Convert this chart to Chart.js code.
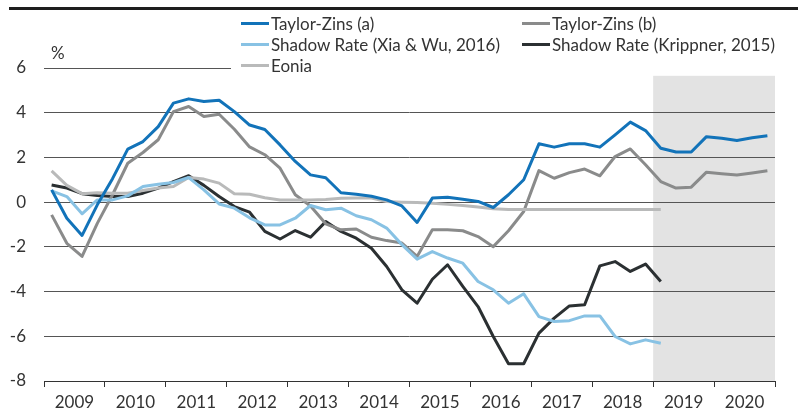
<!DOCTYPE html>
<html>
<head>
<meta charset="utf-8">
<script src="https://cdn.jsdelivr.net/npm/chart.js@4.4.1/dist/chart.umd.min.js"></script>
<style>
  html, body { margin: 0; padding: 0; background: #fff; }
  #wrap { position: relative; width: 798px; height: 416px; overflow: hidden; }
  #rule { position: absolute; left: 9px; right: 0; top: 7px; height: 3px; background: #1e1e1e; }
  #unit { position: absolute; left: 51px; top: 42px; font-family: Lato, sans-serif; font-size: 17px; color: #333; }
  #legend {
    position: absolute; left: 231px; top: 13px; width: 560px; height: 62px; background: #fff;
    display: grid; grid-auto-flow: column; grid-template-rows: repeat(3, 21.2px);
    grid-template-columns: 281px auto; padding-left: 10px; box-sizing: border-box;
    font-family: Lato, sans-serif; font-size: 17px; color: #333;
  }
  #legend .item { display: flex; align-items: center; white-space: nowrap; }
  #legend .swatch { width: 28px; height: 3px; margin-right: 2px; }
</style>
</head>
<body>
<div id="wrap">
  <canvas id="chart" width="798" height="416"></canvas>
  <div id="rule"></div>
  <div id="unit">%</div>
  <div id="legend"></div>
</div>
<script>
// years on the axis, data is quarterly from 2009 Q1
const years = ['2009', '2010', '2011', '2012', '2013', '2014', '2015', '2016', '2017', '2018', '2019', '2020'];
const yTicks = [6, 4, 2, 0, -2, -4, -6, -8];
const forecastFrom = 40;   // quarter index where 2019 starts
const shadeTop = 5.65;

const taylorA = [0.55, -0.72, -1.49, -0.12, 1.05, 2.37, 2.71, 3.38, 4.43, 4.62, 4.5, 4.56,
  4.05, 3.45, 3.25, 2.56, 1.82, 1.22, 1.09, 0.42, 0.35, 0.26, 0.1, -0.17,
  -0.91, 0.18, 0.22, 0.13, 0.03, -0.24, 0.33, 1.0, 2.61, 2.46, 2.61, 2.61,
  2.46, 3.01, 3.58, 3.2, 2.41, 2.24, 2.24, 2.93, 2.86, 2.76, 2.88, 2.97];
const taylorB = [-0.57, -1.84, -2.43, -0.95, 0.33, 1.74, 2.22, 2.79, 4.05, 4.28, 3.83, 3.93,
  3.26, 2.47, 2.12, 1.52, 0.33, -0.17, -0.97, -1.24, -1.2, -1.57, -1.72, -1.83,
  -2.43, -1.24, -1.24, -1.28, -1.54, -1.99, -1.28, -0.42, 1.41, 1.07, 1.32, 1.48,
  1.18, 2.04, 2.38, 1.67, 0.92, 0.63, 0.67, 1.34, 1.27, 1.21, 1.3, 1.4];
const xiaWu = [0.5, 0.25, -0.52, 0.1, 0.1, 0.28, 0.7, 0.8, 0.88, 1.1, 0.55, -0.08,
  -0.27, -0.7, -1.02, -1.02, -0.72, -0.15, -0.34, -0.27, -0.61, -0.79, -1.16, -1.9,
  -2.55, -2.21, -2.5, -2.73, -3.55, -3.92, -4.52, -4.1, -5.12, -5.34, -5.3, -5.09,
  -5.09, -6.01, -6.34, -6.16, -6.31];
const krippner = [0.77, 0.63, 0.38, 0.3, 0.25, 0.25, 0.4, 0.63, 0.92, 1.18, 0.75, 0.25,
  -0.2, -0.45, -1.31, -1.65, -1.27, -1.57, -0.87, -1.31, -1.61, -2.06, -2.88, -3.92,
  -4.52, -3.45, -2.8, -3.77, -4.67, -6.01, -7.23, -7.23, -5.86, -5.19, -4.64, -4.59,
  -2.85, -2.66, -3.1, -2.77, -3.55];
const eonia = [1.4, 0.75, 0.38, 0.42, 0.4, 0.4, 0.52, 0.63, 0.7, 1.1, 1.03, 0.85,
  0.38, 0.35, 0.2, 0.1, 0.1, 0.1, 0.12, 0.17, 0.18, 0.18, 0.03, 0.0,
  -0.02, -0.05, -0.1, -0.15, -0.22, -0.3, -0.33, -0.33, -0.33, -0.33, -0.33, -0.33,
  -0.33, -0.33, -0.33, -0.33, -0.33];

function toPoints(values){
  return values.map((v, i) => ({ x: i + 0.5, y: v }));
}

function makeSet(label, values, color){
  return {
    label: label,
    data: toPoints(values),
    borderColor: color,
    backgroundColor: color,
    borderWidth: 3,
    pointRadius: 0,
    tension: 0,
    borderJoinStyle: 'round'
  };
}

// grey box behind the forecast years
const shadePlugin = {
  id: 'shade',
  beforeDraw(chart){
    const x = chart.scales.x, y = chart.scales.y;
    const ctx = chart.ctx;
    const left = x.getPixelForValue(forecastFrom);
    const right = x.getPixelForValue(years.length * 4);
    const top = y.getPixelForValue(shadeTop);
    ctx.save();
    ctx.fillStyle = '#e3e3e3';
    ctx.fillRect(left, top, right - left, y.bottom - top);
    ctx.restore();
  }
};

// legend in two columns, built from the datasets
const htmlLegend = {
  id: 'htmlLegend',
  afterUpdate(chart){
    const box = document.getElementById('legend');
    box.innerHTML = '';
    const items = chart.options.plugins.legend.labels.generateLabels(chart);
    items.forEach(item => {
      const div = document.createElement('div');
      div.className = 'item';
      const sw = document.createElement('span');
      sw.className = 'swatch';
      sw.style.background = item.strokeStyle;
      const txt = document.createElement('span');
      txt.textContent = item.text;
      div.appendChild(sw);
      div.appendChild(txt);
      box.appendChild(div);
    });
  }
};

Chart.defaults.font.family = 'Lato, sans-serif';
Chart.defaults.font.size = 17;
Chart.defaults.color = '#333';

new Chart(document.getElementById('chart'), {
  type: 'line',
  data: {
    datasets: [
      makeSet('Taylor-Zins (a)', taylorA, '#1273b9'),
      makeSet('Shadow Rate (Xia & Wu, 2016)', xiaWu, '#88c2e4'),
      makeSet('Eonia', eonia, '#b9baba'),
      makeSet('Taylor-Zins (b)', taylorB, '#8a8b8b'),
      makeSet('Shadow Rate (Krippner, 2015)', krippner, '#2b3032')
    ]
  },
  options: {
    responsive: false,
    animation: false,
    layout: { padding: { left: 0, right: 23, top: 68, bottom: 0 } },
    plugins: {
      legend: { display: false },
      tooltip: { enabled: false }
    },
    scales: {
      x: {
        type: 'linear',
        min: 0,
        max: years.length * 4,
        afterBuildTicks(scale){
          const t = [];
          for (let v = 0; v <= years.length * 4; v += 2) t.push({ value: v });
          scale.ticks = t;
        },
        afterFit(scale){ scale.height = 35; },
        grid: {
          drawOnChartArea: false,
          tickLength: 6,
          tickColor: ctx => (ctx.tick && ctx.tick.value % 4 === 0) ? '#333' : 'rgba(0,0,0,0)'
        },
        border: { color: '#333' },
        ticks: {
          autoSkip: false,
          maxRotation: 0,
          padding: 5,
          callback: v => (v % 4 === 2) ? years[(v - 2) / 4] : ''
        }
      },
      y: {
        min: -8,
        max: 6,
        afterBuildTicks(scale){
          scale.ticks = yTicks.map(v => ({ value: v }));
        },
        afterFit(scale){ scale.width = 44; },
        grid: { color: '#555', drawTicks: false },
        border: { display: false },
        ticks: { padding: 18 }
      }
    }
  },
  plugins: [shadePlugin, htmlLegend]
});
</script>
</body>
</html>
